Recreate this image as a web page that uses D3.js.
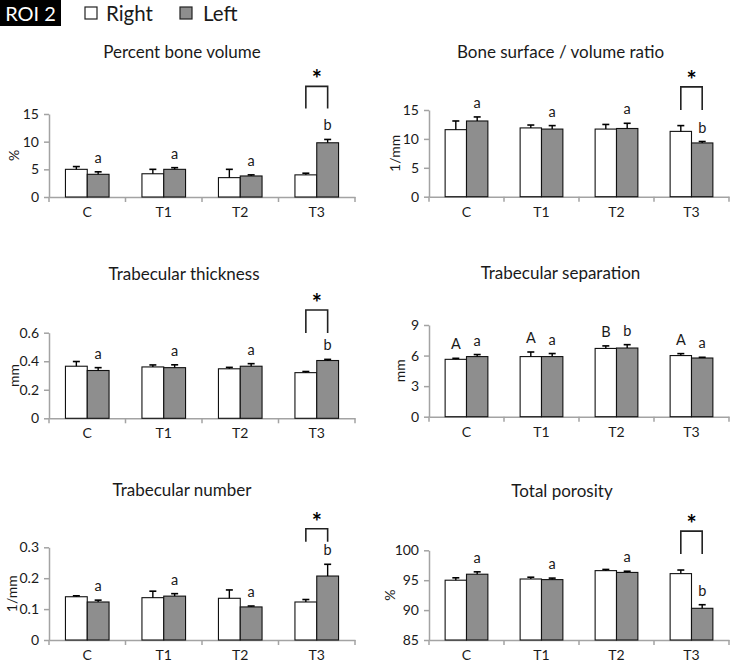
<!DOCTYPE html>
<html><head><meta charset="utf-8">
<script src="https://cdn.jsdelivr.net/npm/d3@7"></script>
<style>
body{margin:0;background:#fff;}
svg{display:block;font-family:Lato,"Open Sans",sans-serif;}
</style>
</head><body>
<svg id="chart" width="740" height="663"></svg>
<script>
// ---------- data ----------
const categories = ["C", "T1", "T2", "T3"];
const seriesNames = ["Right", "Left"];
const panelTitles = ["Percent bone volume", "Bone surface / volume ratio", "Trabecular thickness",
                     "Trabecular separation", "Trabecular number", "Total porosity"];
const yUnits = ["%", "1/mm", "mm", "mm", "1/mm", "%"];

const bvRight = [5.0, 4.2, 3.5, 4.0];
const bvRightErr = [0.5, 0.8, 1.5, 0.3];
const bvLeft = [4.1, 5.0, 3.8, 9.8];
const bvLeftErr = [0.45, 0.3, 0.2, 0.6];

const bsRight = [11.6, 11.9, 11.7, 11.3];
const bsRightErr = [1.5, 0.5, 0.8, 1.0];
const bsLeft = [13.1, 11.7, 11.8, 9.3];
const bsLeftErr = [0.7, 0.6, 0.9, 0.25];

const thRight = [0.365, 0.36, 0.347, 0.32];
const thRightErr = [0.033, 0.014, 0.01, 0.008];
const thLeft = [0.335, 0.355, 0.365, 0.405];
const thLeftErr = [0.02, 0.02, 0.018, 0.008];

const spRight = [5.63, 5.9, 6.7, 6.0];
const spRightErr = [0.1, 0.45, 0.25, 0.19];
const spLeft = [5.9, 5.9, 6.74, 5.76];
const spLeftErr = [0.2, 0.3, 0.33, 0.07];

const nbRight = [0.140, 0.137, 0.135, 0.123];
const nbRightErr = [0.003, 0.021, 0.027, 0.008];
const nbLeft = [0.123, 0.142, 0.107, 0.207];
const nbLeftErr = [0.006, 0.008, 0.003, 0.038];

const poRight = [95.0, 95.2, 96.6, 96.1];
const poRightErr = [0.4, 0.3, 0.2, 0.6];
const poLeft = [96.0, 95.1, 96.3, 90.3];
const poLeftErr = [0.4, 0.25, 0.2, 0.6];

const lettersLeft = ["a", "a", "a", "b"];
const lettersRightNone = ["", "", "", ""];
const spLettersRight = ["A", "A", "B", "A"];
const spLettersLeft = ["a", "a", "b", "a"];
const sigT3 = ["", "", "", "*"];
const sigNone = ["", "", "", ""];

const yTicks15 = [0, 5, 10, 15];
const yTicksTh = [0, 0.2, 0.4, 0.6];
const yTicksSp = [0, 3, 6, 9];
const yTicksNb = [0, 0.1, 0.2, 0.3];
const yTicksPo = [85, 90, 95, 100];

// ---------- panel layout (built from the arrays) ----------
const L = [49, 355], R = [429, 729];
const panels = [
  {title: panelTitles[0], unit: yUnits[0], r: bvRight, re: bvRightErr, l: bvLeft, le: bvLeftErr,
   lr: lettersRightNone, ll: lettersLeft, sig: sigT3, ticks: yTicks15, domain: [0, 15],
   xr: L, yr: [197, 114], tx: 182, ty: 58, ulx: -35, br: [16, 20]},
  {title: panelTitles[1], unit: yUnits[1], r: bsRight, re: bsRightErr, l: bsLeft, le: bsLeftErr,
   lr: lettersRightNone, ll: lettersLeft, sig: sigT3, ticks: yTicks15, domain: [0, 15],
   xr: R, yr: [196.7, 110], tx: 560.5, ty: 58, ulx: -34, br: [15, 19]},
  {title: panelTitles[2], unit: yUnits[2], r: thRight, re: thRightErr, l: thLeft, le: thLeftErr,
   lr: lettersRightNone, ll: lettersLeft, sig: sigT3, ticks: yTicksTh, domain: [0, 0.6],
   xr: L, yr: [418.3, 332.7], tx: 184, ty: 280, ulx: -35, br: [0.598, 0.759]},
  {title: panelTitles[3], unit: yUnits[3], r: spRight, re: spRightErr, l: spLeft, le: spLeftErr,
   lr: spLettersRight, ll: spLettersLeft, sig: sigNone, ticks: yTicksSp, domain: [0, 9],
   xr: R, yr: [416.7, 325], tx: 560.5, ty: 279, ulx: -29, br: null},
  {title: panelTitles[4], unit: yUnits[4], r: nbRight, re: nbRightErr, l: nbLeft, le: nbLeftErr,
   lr: lettersRightNone, ll: lettersLeft, sig: sigT3, ticks: yTicksNb, domain: [0, 0.3],
   xr: L, yr: [640, 547.3], tx: 182, ty: 495.5, ulx: -37, br: [0.318, 0.36]},
  {title: panelTitles[5], unit: yUnits[5], r: poRight, re: poRightErr, l: poLeft, le: poLeftErr,
   lr: lettersRightNone, ll: lettersLeft, sig: sigT3, ticks: yTicksPo, domain: [85, 100],
   xr: R, yr: [640, 550.3], tx: 562, ty: 496.5, ulx: -39, br: [99.4, 103.2]}
];

const GREY = "#8e8e8e", AXIS = "#a3a3a3", TXT = "#1a1a1a";
const svg = d3.select("#chart");

// ---------- legend ----------
svg.append("rect").attr("x", 0).attr("y", 0).attr("width", 61).attr("height", 26).attr("fill", "#000");
svg.append("text").attr("x", 30.5).attr("y", 20.5).attr("text-anchor", "middle")
  .attr("fill", "#fff").attr("font-size", 20).text("ROI 2");
const legItems = [{name: seriesNames[0], fill: "#fff", sx: 85, tx: 106},
                  {name: seriesNames[1], fill: GREY, sx: 180, tx: 203}];
legItems.forEach(d => {
  svg.append("rect").attr("x", d.sx).attr("y", 7).attr("width", 12).attr("height", 12)
    .attr("fill", d.fill).attr("stroke", "#222").attr("stroke-width", 1.2);
  svg.append("text").attr("x", d.tx).attr("y", 20.5).attr("font-size", 20.5).attr("fill", TXT).text(d.name);
});

// ---------- panels ----------
panels.forEach(p => {
  const g = svg.append("g");
  const x = d3.scaleBand().domain(categories).range(p.xr).paddingInner(0.43).paddingOuter(0.215);
  const xs = d3.scaleBand().domain(seriesNames).range([0, x.bandwidth()]);
  const y = d3.scaleLinear().domain(p.domain).range(p.yr);
  const fmt = d3.format("~g");

  // title
  g.append("text").attr("x", p.tx).attr("y", p.ty).attr("text-anchor", "middle")
    .attr("font-size", 17).attr("fill", TXT).text(p.title);

  // y axis
  const ya = g.append("g").attr("transform", `translate(${p.xr[0]},0)`)
    .call(d3.axisLeft(y).tickValues(p.ticks).tickSize(5).tickPadding(5).tickSizeOuter(0).tickFormat(fmt));
  ya.select(".domain").attr("stroke", AXIS).attr("stroke-width", 1.5);
  ya.selectAll(".tick line").attr("stroke", AXIS).attr("stroke-width", 1.5);
  ya.selectAll(".tick text").attr("font-size", 14).attr("fill", TXT).attr("font-family", "Lato");

  // y unit label
  g.append("text").attr("transform", `translate(${p.xr[0] + p.ulx},${(p.yr[0] + p.yr[1]) / 2}) rotate(-90)`)
    .attr("text-anchor", "middle").attr("dy", "0.35em").attr("font-size", 14).attr("fill", TXT).text(p.unit);

  // x axis
  const xa = g.append("g").attr("transform", `translate(0,${p.yr[0]})`)
    .call(d3.axisBottom(x).tickSize(0).tickPadding(10).tickSizeOuter(0));
  xa.select(".domain").attr("stroke", AXIS).attr("stroke-width", 1.5);
  xa.selectAll(".tick text").attr("font-size", 14).attr("fill", TXT).attr("font-family", "Lato");
  const bounds = categories.map(c => x(c) + x.bandwidth() / 2 - x.step() / 2).concat([p.xr[1]]);
  g.selectAll(".xb").data(bounds).join("line")
    .attr("x1", d => d).attr("x2", d => d).attr("y1", p.yr[0]).attr("y2", p.yr[0] + 5)
    .attr("stroke", AXIS).attr("stroke-width", 1.5);

  // bars
  const rows = categories.flatMap((c, i) => [
    {c, s: seriesNames[0], v: p.r[i], e: p.re[i], let: p.lr[i], fill: "#fff"},
    {c, s: seriesNames[1], v: p.l[i], e: p.le[i], let: p.ll[i], fill: GREY}
  ]);
  const base = p.domain[0];
  g.selectAll(".bar").data(rows).join("rect")
    .attr("x", d => x(d.c) + xs(d.s)).attr("width", xs.bandwidth())
    .attr("y", d => y(d.v)).attr("height", d => y(base) - y(d.v))
    .attr("fill", d => d.fill).attr("stroke", "#111").attr("stroke-width", 1.1);

  // error bars (upper only)
  rows.forEach(d => {
    const cx = x(d.c) + xs(d.s) + xs.bandwidth() / 2;
    g.append("line").attr("x1", cx).attr("x2", cx).attr("y1", y(d.v)).attr("y2", y(d.v + d.e))
      .attr("stroke", "#000").attr("stroke-width", 1.4);
    g.append("line").attr("x1", cx - 3.5).attr("x2", cx + 3.5).attr("y1", y(d.v + d.e)).attr("y2", y(d.v + d.e))
      .attr("stroke", "#000").attr("stroke-width", 1.6);
    if (d.let) {
      g.append("text").attr("x", cx).attr("y", y(d.v + d.e) - 9).attr("text-anchor", "middle")
        .attr("font-size", 14.5).attr("fill", TXT).text(d.let);
    }
  });

  // significance brackets
  categories.forEach((c, i) => {
    if (!p.sig[i]) return;
    const xr = x(c) + xs(seriesNames[0]) + xs.bandwidth() / 2;
    const xl = x(c) + xs(seriesNames[1]) + xs.bandwidth() / 2;
    const yb = y(p.br[0]), yt = y(p.br[1]);
    g.append("path").attr("d", `M${xr},${yb}V${yt}H${xl}V${yb}`)
      .attr("fill", "none").attr("stroke", "#222").attr("stroke-width", 1.6);
    g.append("text").attr("x", (xr + xl) / 2).attr("y", yt + 2).attr("text-anchor", "middle")
      .attr("font-size", 24).attr("font-weight", "bold").attr("fill", "#000").text(p.sig[i]);
  });
});
</script>
</body></html>
